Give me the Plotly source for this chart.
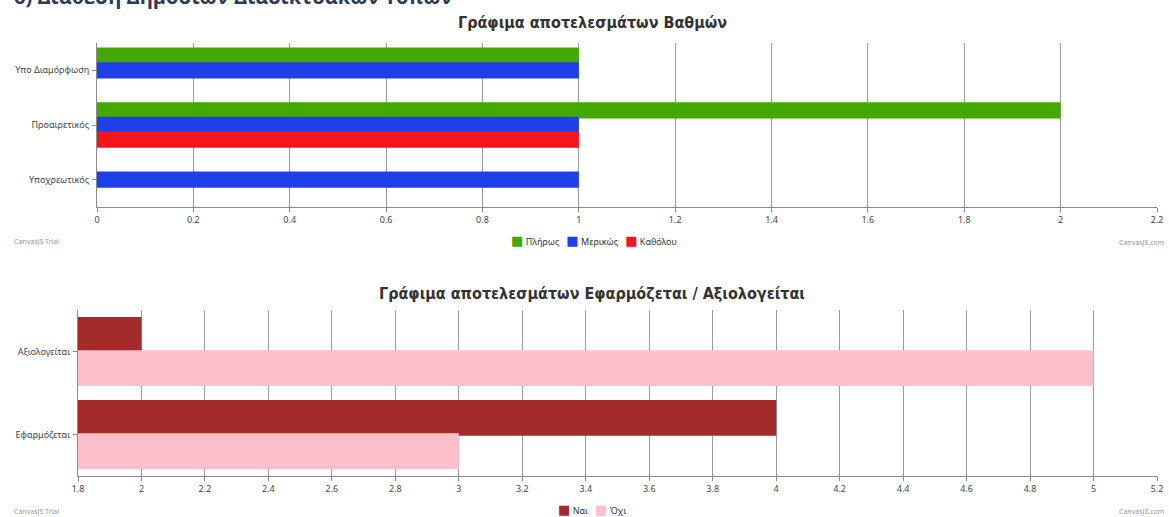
import plotly.graph_objects as go

# ---- Data: top chart ----
grade_categories = ["Υπο Διαμόρφωση", "Προαιρετικός", "Υποχρεωτικός"]
grade_full = [1, 2, 0]       # Πλήρως
grade_partial = [1, 1, 1]    # Μερικώς
grade_none = [0, 1, 0]       # Καθόλου
grade_series_names = ["Πλήρως", "Μερικώς", "Καθόλου"]
grade_ticks = [0, 0.2, 0.4, 0.6, 0.8, 1, 1.2, 1.4, 1.6, 1.8, 2, 2.2]

# ---- Data: bottom chart ----
apply_categories = ["Αξιολογείται", "Εφαρμόζεται"]
apply_yes = [2, 4]   # Ναι
apply_no = [5, 3]    # Όχι
apply_series_names = ["Ναι", "Όχι"]
apply_ticks = [1.8, 2, 2.2, 2.4, 2.6, 2.8, 3, 3.2, 3.4, 3.6, 3.8, 4, 4.2, 4.4, 4.6, 4.8, 5, 5.2]

title_top = "Γράφιμα αποτελεσμάτων Βαθμών"
title_bottom = "Γράφιμα αποτελεσμάτων Εφαρμόζεται / Αξιολογείται"
header_text = "6) Διάθεση Δημόσιων Διαδικτυακών Τόπων"

W, H = 1169, 517
def px_x(p): return p / W
def px_y(p): return 1 - p / H

fig = go.Figure()

top_colors = ["#44A800", "#1F3FEA", "#F4161A"]
for name, vals, col in zip(grade_series_names, [grade_full, grade_partial, grade_none], top_colors):
    fig.add_trace(go.Bar(
        y=grade_categories, x=vals, orientation="h", name=name,
        marker=dict(color=col, line=dict(width=0)),
        xaxis="x", yaxis="y", width=0.3, showlegend=False,
    ))

bot_colors = ["#A52A2A", "#FFC0CB"]
for name, vals, col in zip(apply_series_names, [apply_yes, apply_no], bot_colors):
    fig.add_trace(go.Bar(
        y=apply_categories, x=vals, orientation="h", name=name,
        marker=dict(color=col, line=dict(width=0)),
        xaxis="x2", yaxis="y2", width=0.43, showlegend=False,
    ))

tick_font = dict(family="Noto Sans, DejaVu Sans, sans-serif", size=9, color="#444")
grid_col = "#9a9a9a"
axis_col = "#8c8c8c"

common_x = dict(showgrid=True, gridcolor=grid_col, gridwidth=1, showline=True,
                linecolor=axis_col, linewidth=1, ticks="outside", ticklen=4,
                tickcolor=axis_col, tickfont=tick_font, zeroline=False, fixedrange=True,
                automargin=False)
common_y = dict(showgrid=False, showline=True, linecolor=axis_col, linewidth=1,
                ticks="outside", ticklen=4, tickcolor=axis_col, tickfont=tick_font,
                autorange="reversed", type="category", fixedrange=True,
                automargin=False, ticklabelstandoff=1)

title_font = dict(family="DejaVu Sans Condensed, sans-serif",
                  size=16, color="#333333", weight="bold")

fig.update_layout(
    width=W, height=H,
    margin=dict(l=0, r=0, t=0, b=0),
    paper_bgcolor="white", plot_bgcolor="white",
    barmode="group",
    showlegend=False,
    xaxis=dict(domain=[px_x(97), px_x(1157)], range=[0, 2.2], tickvals=grade_ticks,
               ticktext=[f"{v:g}" for v in grade_ticks], anchor="y", **common_x),
    yaxis=dict(domain=[px_y(207), px_y(43)], anchor="x", **common_y),
    xaxis2=dict(domain=[px_x(78), px_x(1157)], range=[1.8, 5.2], tickvals=apply_ticks,
                ticktext=[f"{v:g}" for v in apply_ticks], anchor="y2", **common_x),
    yaxis2=dict(domain=[px_y(476), px_y(310)], anchor="x2", **common_y),
)

def legend_text(names, colors):
    parts = [f'<span style="color:{c};font-size:13px">■</span>\u00a0{n}' for n, c in zip(names, colors)]
    return "\u00a0\u00a0\u00a0".join(parts)

small_font = dict(family="Noto Sans, sans-serif", size=7, color="#999")
legend_font = dict(family="Noto Sans, DejaVu Sans, sans-serif", size=9, color="#333")
annotations = [
    dict(text=title_top, x=px_x(592), y=px_y(23), xref="paper", yref="paper",
         xanchor="center", yanchor="middle", showarrow=False, font=title_font),
    dict(text=title_bottom, x=px_x(592), y=px_y(293), xref="paper", yref="paper",
         xanchor="center", yanchor="middle", showarrow=False, font=title_font),
    dict(text=legend_text(grade_series_names, top_colors), x=px_x(594), y=px_y(240),
         xref="paper", yref="paper", xanchor="center", yanchor="middle",
         showarrow=False, font=legend_font),
    dict(text=legend_text(apply_series_names, bot_colors), x=px_x(592), y=px_y(509),
         xref="paper", yref="paper", xanchor="center", yanchor="middle",
         showarrow=False, font=legend_font),
    dict(text="CanvasJS Trial", x=px_x(12), y=px_y(241), xref="paper", yref="paper",
         xanchor="left", yanchor="middle", showarrow=False, font=small_font),
    dict(text="CanvasJS.com", x=px_x(1166), y=px_y(243), xref="paper", yref="paper",
         xanchor="right", yanchor="middle", showarrow=False, font=small_font),
    dict(text="CanvasJS Trial", x=px_x(12), y=px_y(511), xref="paper", yref="paper",
         xanchor="left", yanchor="middle", showarrow=False, font=small_font),
    dict(text="CanvasJS.com", x=px_x(1166), y=px_y(511), xref="paper", yref="paper",
         xanchor="right", yanchor="middle", showarrow=False, font=small_font),
    dict(text=header_text, x=px_x(12), y=px_y(-4), xref="paper", yref="paper",
         xanchor="left", yanchor="middle", showarrow=False,
         font=dict(family="Open Sans, Noto Sans, sans-serif", size=20, color="#2b3a55",
                   weight="bold")),
]
fig.update_layout(annotations=annotations)

fig.write_html("out.html", config={"displayModeBar": False},
               post_script="document.body.style.margin='0';")
